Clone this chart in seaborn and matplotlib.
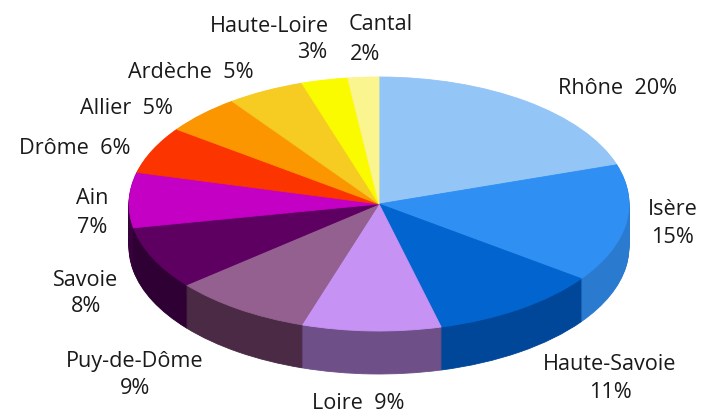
import matplotlib
matplotlib.use("Agg")
import matplotlib.pyplot as plt
import seaborn as sns

departments = ["Rhône", "Isère", "Haute-Savoie", "Loire", "Puy-de-Dôme", "Savoie",
               "Ain", "Drôme", "Allier", "Ardèche", "Haute-Loire", "Cantal"]
shares = [20, 15, 11, 9, 9, 8, 7, 6, 5, 5, 3, 2]
top_colors = ["#93c5f7", "#2f8ff2", "#0265cf", "#c693f5", "#94608f", "#5e0062",
              "#c400c4", "#fb3400", "#fb9600", "#f6cb22", "#fbfb00", "#fbf58f"]
side_colors = ["#7aa8d8", "#2a7bd0", "#00479a", "#6f4f88", "#4a2a45", "#2e0033",
               "#38003c", "#8a1c00", "#8a5200", "#8a7010", "#8a8a00", "#8a8750"]

# label anchors in pixels of the image (x, y); value_xy None means same line as the name
name_xy = [(618, 88), (673, 209), (610, 364), (358, 403), (135, 361), (86, 280),
           (92, 199), (75, 148), (126, 108), (191, 73), (269, 26), (381, 25)]
value_xy = [None, (673, 237), (610, 392), None, (135, 388), (86, 307),
            (92, 227), None, None, None, (312, 53), (365, 54)]

W, H = 703, 415
SQUASH = 0.508
CX, CY = 379, 204
RX = 250
DEPTH = 43

sns.set_theme(style="white")
plt.rcParams["font.family"] = ["Open Sans", "DejaVu Sans"]

fig = plt.figure(figsize=(W / 100, H / 100), dpi=100)
ax = fig.add_axes([0, 0, 1, 1])
fig.patch.set_facecolor("white")


def draw(offset, colors):
    wedges, _ = ax.pie(shares, colors=colors, startangle=90, counterclock=False, radius=RX,
                       center=(CX, (H - CY - offset) / SQUASH), frame=True)
    for w in wedges:
        w.set_edgecolor(w.get_facecolor())
        w.set_linewidth(0.6)


for d in range(DEPTH, 0, -1):
    draw(d, side_colors)
draw(0, top_colors)

ax.set_aspect("auto")
ax.set_xlim(0, W)
ax.set_ylim(0, H / SQUASH)
ax.axis("off")

for name, share, nxy, vxy in zip(departments, shares, name_xy, value_xy):
    first = name if vxy else f"{name}  {share}%"
    fig.text(nxy[0] / W, 1 - nxy[1] / H, first, ha="center", va="center",
             fontsize=15.6, color="#1a1a1a")
    if vxy:
        fig.text(vxy[0] / W, 1 - vxy[1] / H, f"{share}%", ha="center", va="center",
                 fontsize=15.6, color="#1a1a1a")

fig.savefig("out.png", dpi=100, facecolor="white")
